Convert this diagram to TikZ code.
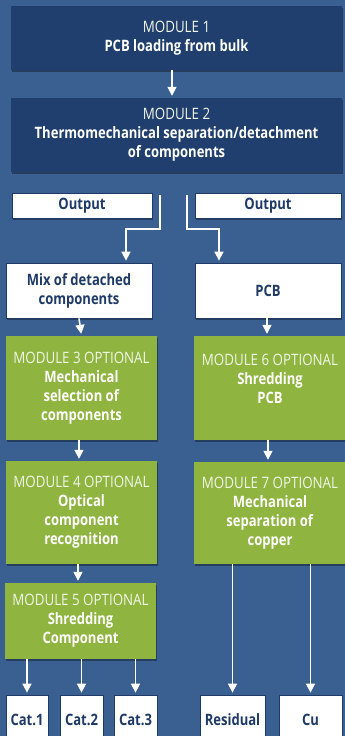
\documentclass[tikz,border=0pt]{standalone}
\usepackage{fontspec}
\setmainfont{Open Sans}[FakeStretch=0.85,BoldFeatures={FakeStretch=0.83}]
\usetikzlibrary{arrows.meta,shadows}
\definecolor{bg}{HTML}{3A5F91}
\definecolor{navy}{HTML}{213F6E}
\definecolor{grn}{HTML}{8FB43F}
\definecolor{txt}{HTML}{1F3A68}
\newcommand{\ttl}[1]{{\color{white!88!grn}#1}}
\begin{document}
\begin{tikzpicture}[x=1pt,y=-1pt,
  shad/.style={drop shadow={shadow xshift=1pt,shadow yshift=-2pt,opacity=0.35,fill=black}},
  modbox/.style={shad,fill=navy,text=white,inner sep=0pt,align=center,font=\fontsize{15.7}{19}\selectfont},
  grnbox/.style={shad,fill=grn,text=white,inner sep=0pt,align=center,font=\fontsize{15.7}{19}\selectfont},
  wbox/.style={shad,fill=white,draw=txt,line width=0.8pt,text=txt,inner sep=0pt,align=center,font=\bfseries\fontsize{15.7}{19}\selectfont},
  arr/.style={draw=white,line width=1.6pt,-{Triangle[width=9pt,length=9pt]},shorten >=2pt}]
\fill[bg] (0,0) rectangle (345,736);
\useasboundingbox (0,0) rectangle (345,736);

\node[modbox,minimum width=331pt,minimum height=64pt] (m1) at (176.5,38)
  {\ttl{MODULE 1}\\\textbf{PCB loading from bulk}};
\node[modbox,minimum width=331pt,minimum height=74pt] (m2) at (176.5,135)
  {\ttl{MODULE 2}\\\textbf{Thermomechanical separation/detachment}\\\textbf{of components}};
\node[wbox,minimum width=140pt,minimum height=25pt] (outL) at (82,205.5) {Output};
\node[wbox,minimum width=146pt,minimum height=25pt] (outR) at (268,205.5) {Output};
\node[wbox,minimum width=146pt,minimum height=55pt] (mix) at (79,290.5) {Mix of detached\\components};
\node[wbox,minimum width=146pt,minimum height=55pt] (pcb) at (268,290.5) {PCB};
\node[grnbox,minimum width=151pt,minimum height=104pt] (m3) at (81.5,388)
  {\ttl{MODULE 3 OPTIONAL}\\\textbf{Mechanical}\\\textbf{selection of}\\\textbf{components}};
\node[grnbox,minimum width=152pt,minimum height=104pt] (m6) at (270,388)
  {\ttl{MODULE 6 OPTIONAL}\\\textbf{Shredding}\\\textbf{PCB}\\~};
\node[grnbox,minimum width=151pt,minimum height=103pt] (m4) at (81.5,512.5)
  {\ttl{MODULE 4 OPTIONAL}\\\textbf{Optical}\\\textbf{component}\\\textbf{recognition}};
\node[grnbox,minimum width=152pt,minimum height=102pt] (m7) at (270,513)
  {\ttl{MODULE 7 OPTIONAL}\\\textbf{Mechanical}\\\textbf{separation of}\\\textbf{copper}};
\node[grnbox,minimum width=151pt,minimum height=76pt] (m5) at (80.5,621)
  {\ttl{MODULE 5 OPTIONAL}\\\textbf{Shredding}\\\textbf{Component}};
\node[wbox,minimum width=42pt,minimum height=50pt] (c1) at (27,720) {Cat.1};
\node[wbox,minimum width=43pt,minimum height=50pt] (c2) at (81.5,720) {Cat.2};
\node[wbox,minimum width=43pt,minimum height=50pt] (c3) at (135.5,720) {Cat.3};
\node[wbox,minimum width=65pt,minimum height=50pt] (res) at (232.5,720) {Residual};
\node[wbox,minimum width=63pt,minimum height=50pt] (cu) at (310.5,720) {Cu};

\draw[arr] ([xshift=-4.5pt]m1.south) -- ([xshift=-4.5pt]m2.north);
\coordinate (sL) at (160,195);
\coordinate (kL) at (126,229);
\coordinate (sR) at (187,195);
\coordinate (kR) at (219,229);
\draw[arr] (sL) |- (kL) -- (kL |- mix.north);
\draw[arr] (sR) |- (kR) -- (kR |- pcb.north);
\draw[arr] (mix.south) -- (m3.north);
\draw[arr] ([xshift=-1pt]pcb.south) -- ([xshift=-1pt]m6.north -| pcb.south);
\draw[arr] ([xshift=-2.5pt]m3.south) -- ([xshift=-2.5pt]m4.north);
\draw[arr] ([xshift=-2pt]m6.south) -- ([xshift=-2pt]m7.north);
\draw[arr] ([xshift=-3.5pt]m4.south) -- ([xshift=-2.5pt]m5.north);
\draw[arr] (m5.south -| c1.north) -- (c1.north);
\draw[arr] (m5.south -| c2.north) -- (c2.north);
\draw[arr] (m5.south -| c3.north) -- (c3.north);
\draw[arr] (m7.south -| res.north) -- (res.north);
\draw[arr] (m7.south -| cu.north) -- (cu.north);
\end{tikzpicture}
\end{document}
